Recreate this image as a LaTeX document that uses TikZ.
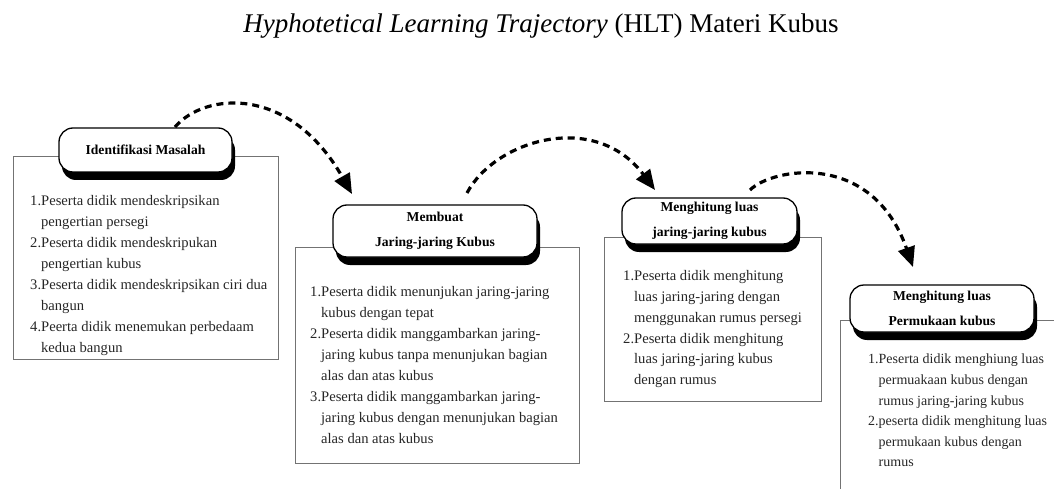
\documentclass[tikz,border=0pt]{standalone}
\usepackage{fontspec}
\setmainfont{Liberation Serif}
\usetikzlibrary{arrows.meta,shadows}
\begin{document}
\begin{tikzpicture}[x=1pt,y=-1pt,
  panel/.style={draw=black!55, line width=1pt, inner sep=0pt},
  pill/.style={draw=black, fill=white, line width=1.3pt, rounded corners=14pt, inner sep=0pt, align=center,
    font=\bfseries\fontsize{13.6}{24.5}\selectfont,
    general shadow={fill=black, shadow xshift=3pt, shadow yshift=-8pt}},
  itemtext/.style={anchor=north west, inner sep=0pt, align=left, text=black!85,
    font=\fontsize{14.6}{20.9}\selectfont},
  flow/.style={line width=3.2pt, dash pattern=on 7pt off 5pt, -{Triangle[length=20pt,width=17pt]}}]
\useasboundingbox (0,0) rectangle (1054,489);

\node[font=\fontsize{27}{31}\selectfont, anchor=base, inner sep=0pt] (title) at (541,33) {\textit{Hyphotetical Learning Trajectory} (HLT) Materi Kubus};

% panels
\node[panel, minimum width=265, minimum height=202] (b1) at (145.5,258) {};
\node[panel, minimum width=284, minimum height=216] (b2) at (437,355) {};
\node[panel, minimum width=217, minimum height=164] (b3) at (712.5,319) {};
\draw[draw=black!55, line width=1pt] (1054,320) -| (840,489);

% pills
\node[pill, minimum width=173, minimum height=44] (p1) at (145.5,150) {Identifikasi Masalah};
\node[pill, minimum width=204, minimum height=52] (p2) at (435,231) {Membuat\\Jaring-jaring Kubus};
\node[pill, minimum width=175, minimum height=46] (p3) at (709.5,221) {Menghitung luas\\jaring-jaring kubus};
\node[pill, minimum width=184, minimum height=47] (p4) at (942,308.5) {Menghitung luas\\Permukaan kubus};

% contents
\node[itemtext] (t1) at (30,195.5) {1.Peserta didik mendeskripsikan\\
\phantom{1.}pengertian persegi\\
2.Peserta didik mendeskripukan\\
\phantom{1.}pengertian kubus\\
3.Peserta didik mendeskripsikan ciri dua\\
\phantom{1.}bangun\\
4.Peerta didik menemukan perbedaam\\
\phantom{1.}kedua bangun};

\node[itemtext] (t2) at (310,286.5) {1.Peserta didik menunjukan jaring-jaring\\
\phantom{1.}kubus dengan tepat\\
2.Peserta didik manggambarkan jaring-\\
\phantom{1.}jaring kubus tanpa menunjukan bagian\\
\phantom{1.}alas dan atas kubus\\
3.Peserta didik manggambarkan jaring-\\
\phantom{1.}jaring kubus dengan menunjukan bagian\\
\phantom{1.}alas dan atas kubus};

\node[itemtext] (t3) at (623,270) {1.Peserta didik menghitung\\
\phantom{1.}luas jaring-jaring dengan\\
\phantom{1.}menggunakan rumus persegi\\
2.Peserta didik menghitung\\
\phantom{1.}luas jaring-jaring kubus\\
\phantom{1.}dengan rumus};

\node[itemtext, font=\fontsize{14}{20.6}\selectfont] (t4) at (868,354) {1.Peserta didik menghiung luas\\
\phantom{1.}permuakaan kubus dengan\\
\phantom{1.}rumus jaring-jaring kubus\\
2.peserta didik menghitung luas\\
\phantom{1.}permukaan kubus dengan\\
\phantom{1.}rumus};

% arrows
\coordinate (a1s) at (175,127);
\coordinate (a1e) at (352,194);
\coordinate (a2s) at (467,193);
\coordinate (a2e) at (655,190);
\coordinate (a3s) at (750,190);
\coordinate (a3e) at (913,267);
\draw[flow] (a1s) .. controls (205,92) and (290,85) .. (a1e);
\draw[flow] (a2s) .. controls (495,140) and (595,110) .. (a2e);
\draw[flow] (a3s) .. controls (772,168) and (872,150) .. (a3e);
\end{tikzpicture}
\end{document}
